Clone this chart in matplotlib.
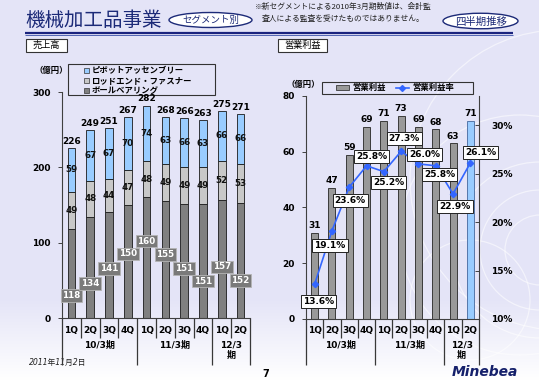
import matplotlib
matplotlib.use('Agg')
import matplotlib.pyplot as plt
import numpy as np
from matplotlib.patches import Rectangle, Ellipse, Patch, Circle
from matplotlib.lines import Line2D
from matplotlib.ticker import FuncFormatter

plt.rcParams['font.family'] = ['DejaVu Sans', 'Noto Sans CJK JP']
JP = ['Noto Sans CJK JP', 'DejaVu Sans']

# ---------------- data ----------------
quarters = ['1Q', '2Q', '3Q', '4Q', '1Q', '2Q', '3Q', '4Q', '1Q', '2Q']
fiscal_years = ['10/3期', '11/3期', '12/3\n期']
year_groups = [(0, 3), (4, 7), (8, 9)]

segment_names = ['ピボットアッセンブリー', 'ロッドエンド・ファスナー', 'ボールベアリング']
ball_bearing = [118, 134, 141, 150, 160, 155, 151, 151, 157, 152]
rod_end = [49, 48, 44, 47, 48, 49, 49, 49, 52, 53]
pivot = [59, 67, 67, 70, 74, 63, 66, 63, 66, 66]
sales_total = [226, 249, 251, 267, 282, 268, 266, 263, 275, 271]

op_income = [31, 47, 59, 69, 71, 73, 69, 68, 63, 71]
op_margin = [13.6, 19.1, 23.6, 25.8, 25.2, 27.3, 26.0, 25.8, 22.9, 26.1]

# layout-only: where the ball-bearing value boxes sit (data units) and margin label offsets (px)
bb_label_y = [30, 46, 66, 85, 102, 84, 66, 49, 68, 50]
margin_offsets = [(4, -17), (-2, -15), (1, -13), (5, 9), (5, -11),
                  (3, 13), (6, 9), (4, -9), (2, -13), (10, 10)]

NAVY = '#1c2a78'
W, H = 539, 380
DPI = 100
fig = plt.figure(figsize=(W / DPI, H / DPI), dpi=DPI)


def fx(p):
    return p / W


def fy(p):
    return 1 - p / H


# ---------------- background ----------------
bg = fig.add_axes([0, 0, 1, 1], zorder=-10)
bg.set_xlim(0, W)
bg.set_ylim(H, 0)
bg.axis('off')
rows = np.arange(H)
lav = np.array([0.898, 0.898, 0.970])
t = np.clip((rows - 300) / 80.0, 0, 1)[:, None]
grad = (lav * (1 - t) + np.array([1.0, 1.0, 1.0]) * t)[:, None, :]
bg.imshow(grad, extent=[0, W, H, 0], aspect='auto')
for (cx, cy, r) in [(540, 250, 35), (540, 250, 60), (540, 250, 88), (520, 235, 120),
                    (470, 300, 60), (560, 180, 150)]:
    bg.add_patch(Circle((cx, cy), r, fill=False, ec='white', lw=0.9, alpha=0.55))

# ---------------- header ----------------
bg.text(25, 20, '機械加工品事業', fontsize=14, color=NAVY, family=JP,
        va='center', ha='left')
bg.add_patch(Ellipse((210.5, 20), 83, 15, fc='white', ec=NAVY, lw=1.0))
bg.text(210.5, 20.5, 'セグメント別', fontsize=6.8, color=NAVY, family=JP,
        ha='center', va='center')
bg.text(343, 6.5, '※新セグメントによる2010年3月期数値は、会計監', fontsize=5.6,
        family=JP, ha='center', va='center', color='#222222')
bg.text(343, 18.5, '査人による監査を受けたものではありません。', fontsize=5.6,
        family=JP, ha='center', va='center', color='#222222')
bg.add_patch(Ellipse((480.5, 21), 75, 15.5, fc='white', ec=NAVY, lw=1.0))
bg.text(480.5, 21.5, '四半期推移', fontsize=7.5, color=NAVY, family=JP,
        ha='center', va='center')
bg.plot([25, 513], [32.8, 32.8], color='#1a237e', lw=1.6, solid_capstyle='butt')
bg.plot([25, 513], [35.3, 35.3], color='#3a4fa8', lw=0.6, solid_capstyle='butt')

bg.add_patch(Rectangle((26, 39), 41, 13, fc='white', ec='#333333', lw=0.8))
bg.text(46.5, 45.7, '売上高', fontsize=6.6, family=JP, ha='center', va='center')
bg.add_patch(Rectangle((278, 39), 49, 13, fc='white', ec='#333333', lw=0.8))
bg.text(302.5, 45.7, '営業利益', fontsize=6.6, family=JP, ha='center', va='center')

# footer
bg.text(29, 362, '2011年11月2日', fontsize=5.6, style='italic', ha='left',
        va='center', color='#222222')
bg.text(266, 374, '7', fontsize=7, fontweight='bold', ha='center', va='center')
bg.text(452, 372, 'Minebea', fontsize=10, fontweight='bold', style='italic',
        color='#15206b', ha='left', va='center')

x = np.arange(len(quarters))
BW = 0.4
SPINE = '#404040'


def category_axis(ax, y0):
    # boundaries between categories, mapped through the axes' own data transform
    for k in range(len(quarters) + 1):
        xb = k - 0.5
        px = ax.transData.transform((xb, 0))[0]
        long_line = k in (0, 4, 8, len(quarters))
        y_end = 365 if long_line else 338
        bg.plot([px, px], [y0, y_end], color='#383838', lw=0.9,
                solid_capstyle='butt', zorder=5)
    for i, q in enumerate(quarters):
        px = ax.transData.transform((i, 0))[0]
        bg.text(px, 330, q, ha='center', va='center', fontsize=6.5,
                fontweight='bold')
    for name, (a, b) in zip(fiscal_years, year_groups):
        px = ax.transData.transform(((a + b) / 2, 0))[0]
        bg.text(px, 341, name, ha='center', va='top', fontsize=6.5,
                fontweight='bold', linespacing=1.15)


def style_axis(ax):
    for s in ['top', 'right']:
        ax.spines[s].set_visible(False)
    for s in ['left', 'bottom']:
        ax.spines[s].set_color(SPINE)
        ax.spines[s].set_linewidth(0.8)
    ax.set_xticks([])
    ax.tick_params(axis='y', length=3, width=0.7, color=SPINE, pad=5,
                   labelsize=6.5)
    for lab in ax.get_yticklabels():
        lab.set_fontweight('bold')
    ax.patch.set_alpha(0)


# ---------------- left chart: sales ----------------
axL = fig.add_axes([fx(62), fy(318), fx(250) - fx(62), (318 - 92) / H])
bb = np.array(ball_bearing)
rd = np.array(rod_end)
pv = np.array(pivot)
axL.bar(x, bb, BW, color='#808080', edgecolor='#1a1a1a', lw=0.6)
axL.bar(x, rd, BW, bottom=bb, color='#c8c8c8', edgecolor='#1a1a1a', lw=0.6)
axL.bar(x, pv, BW, bottom=bb + rd, color='#99ccff', edgecolor='#1a1a1a', lw=0.6)
axL.set_xlim(-0.5, len(quarters) - 0.5)
axL.set_ylim(0, 300)
axL.set_yticks([0, 100, 200, 300])
style_axis(axL)
category_axis(axL, 318)

for i in range(len(quarters)):
    axL.text(i, bb_label_y[i], str(ball_bearing[i]), color='white', fontsize=6.3,
             fontweight='bold', ha='center', va='center',
             bbox=dict(boxstyle='square,pad=0.2', fc='#7a7a7a', ec='#b5b5b5', lw=0.6))
    axL.text(i, bb[i] + rd[i] / 2, str(rod_end[i]), fontsize=6.3, fontweight='bold',
             ha='center', va='center', color='#111111')
    axL.text(i, bb[i] + rd[i] + pv[i] / 2, str(pivot[i]), fontsize=6.3,
             fontweight='bold', ha='center', va='center', color='#111111')
    axL.annotate(str(sales_total[i]), (i, bb[i] + rd[i] + pv[i]),
                 xytext=(0, 1.5), textcoords='offset points', ha='center',
                 va='bottom', fontsize=6.5, fontweight='bold')

bg.text(51, 71, '（億円）', fontsize=6, family=JP, ha='center', va='center',
        fontweight='bold')
bg.add_patch(Rectangle((68, 64), 147, 31, fill=False, ec='#333333', lw=0.8))
legL = axL.legend(handles=[Patch(fc='#99ccff', ec='#333333', lw=0.5),
                           Patch(fc='#c8c8c8', ec='#333333', lw=0.5),
                           Patch(fc='#808080', ec='#333333', lw=0.5)],
                  labels=segment_names, loc='upper left',
                  bbox_to_anchor=(fx(84), fy(66)), bbox_transform=fig.transFigure,
                  frameon=False, handlelength=0.55, handleheight=0.55,
                  handletextpad=0.35, labelspacing=0.12, borderpad=0,
                  borderaxespad=0, prop={'size': 6, 'weight': 'bold'})

# ---------------- right chart: operating income ----------------
axR = fig.add_axes([fx(306), fy(319), fx(479) - fx(306), (319 - 96) / H])
bar_colors = ['#999999'] * (len(quarters) - 1) + ['#99ccff']
bar_edges = ['#3a3a3a'] * (len(quarters) - 1) + ['#5577aa']
axR.bar(x, op_income, BW, color=bar_colors, edgecolor=bar_edges, lw=0.7)
axR.set_xlim(-0.5, len(quarters) - 0.5)
axR.set_ylim(0, 80)
axR.set_yticks([0, 20, 40, 60, 80])
style_axis(axR)
category_axis(axR, 319)
for i, v in enumerate(op_income):
    axR.annotate(str(v), (i, v), xytext=(0, 2), textcoords='offset points',
                 ha='center', va='bottom', fontsize=6.5, fontweight='bold')

axR2 = axR.twinx()
axR2.set_ylim(10, 33)
axR2.set_yticks([10, 15, 20, 25, 30])
axR2.yaxis.set_major_formatter(FuncFormatter(lambda v, p: f'{v:.0f}%'))
for s in ['top', 'left', 'bottom']:
    axR2.spines[s].set_visible(False)
axR2.spines['right'].set_color(SPINE)
axR2.spines['right'].set_linewidth(0.8)
axR2.tick_params(axis='y', direction='in', length=3, width=0.7, color=SPINE,
                 pad=9, labelsize=6.5)
for lab in axR2.get_yticklabels():
    lab.set_fontweight('bold')
axR2.plot(x, op_margin, color='#3366ff', lw=1.2, marker='D', ms=3.2,
          markerfacecolor='#3366ff', markeredgecolor='#3366ff')
for i, v in enumerate(op_margin):
    dx, dy = margin_offsets[i]
    axR2.annotate(f'{v:.1f}%', (i, v), xytext=(dx, dy), textcoords='offset pixels',
                  ha='center', va='center', fontsize=6.5, fontweight='bold',
                  bbox=dict(boxstyle='square,pad=0.22', fc='white', ec='#222222',
                            lw=0.7))

bg.text(303, 85, '（億円）', fontsize=6, family=JP, ha='center', va='center',
        fontweight='bold')
bg.add_patch(Rectangle((322, 82), 151, 11.5, fill=False, ec='#333333', lw=0.8))
legR = axR2.legend(handles=[Patch(fc='#999999', ec='#3a3a3a', lw=0.6),
                            Line2D([], [], color='#3366ff', lw=1.2, marker='D', ms=3)],
                   labels=['営業利益', '営業利益率'], loc='center left',
                   bbox_to_anchor=(fx(336), fy(87.8)), bbox_transform=fig.transFigure,
                   ncol=2, frameon=False, handlelength=1.6, handleheight=0.5,
                   handletextpad=0.35, columnspacing=1.2, borderpad=0,
                   borderaxespad=0, prop={'size': 6, 'weight': 'bold'})

fig.savefig('out.png', dpi=DPI)
